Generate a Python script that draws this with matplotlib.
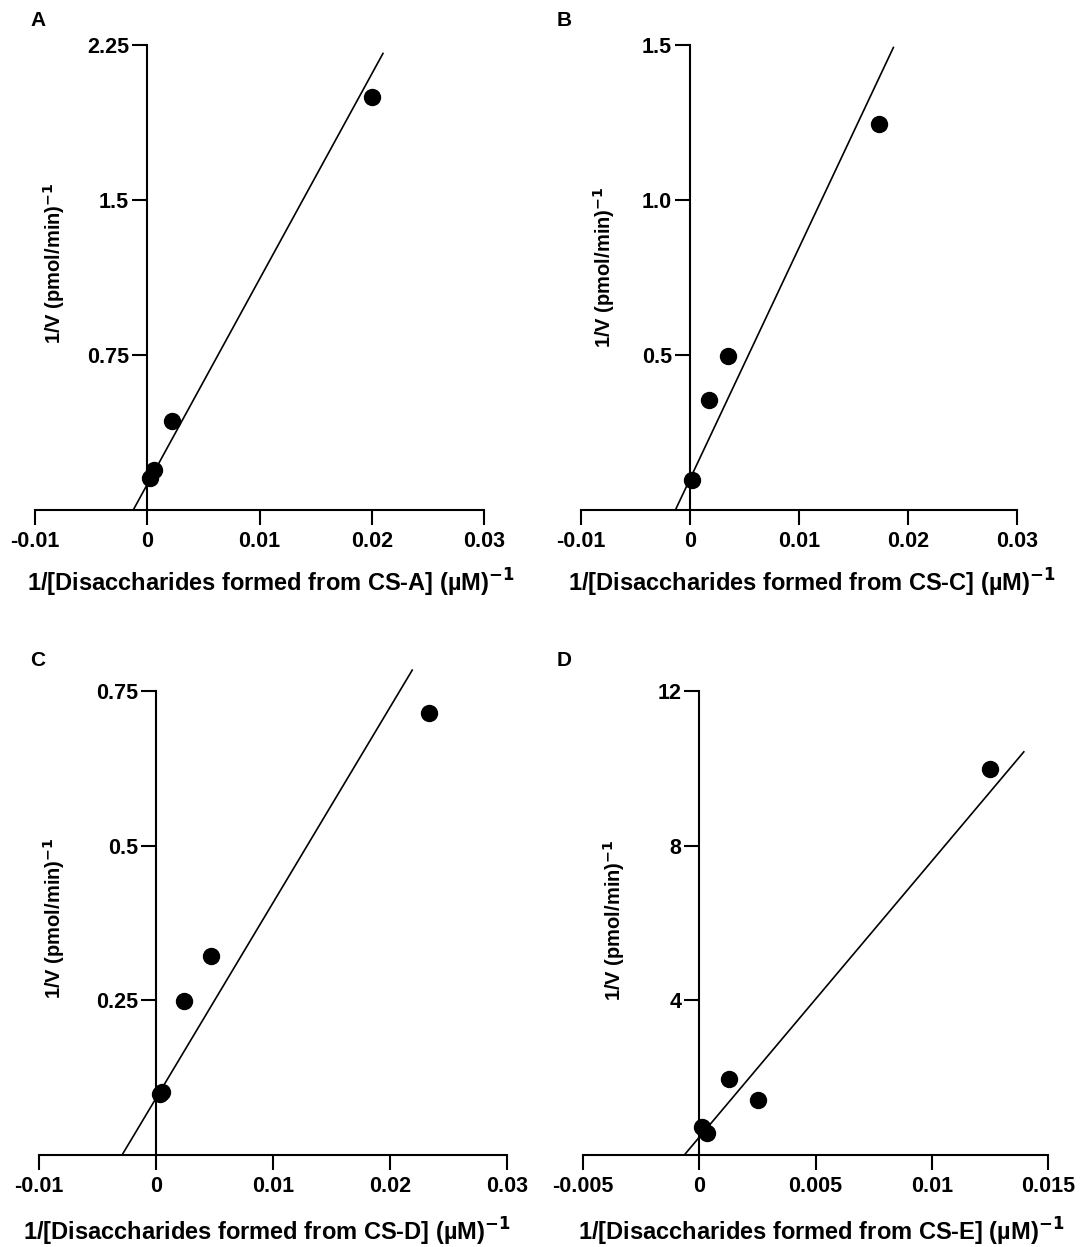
import numpy as np
import matplotlib
matplotlib.use("Agg")
import matplotlib.pyplot as plt

plt.rcParams['font.family'] = ['Liberation Sans', 'DejaVu Sans']
plt.rcParams['font.weight'] = 'bold'
plt.rcParams['mathtext.default'] = 'bf'

# data (1/[S], 1/V)
x_a = [0.0200, 0.00217, 0.00062, 0.00024]
y_a = [2.00, 0.433, 0.192, 0.154]
x_b = [0.01731, 0.00349, 0.00176, 0.0002]
y_b = [1.244, 0.497, 0.355, 0.096]
x_c = [0.02332, 0.00471, 0.00243, 0.0003, 0.0005]
y_c = [0.714, 0.322, 0.249, 0.099, 0.102]
x_d = [0.01249, 0.00127, 0.00254, 0.00013, 0.00033]
y_d = [9.99, 1.96, 1.41, 0.73, 0.58]

# fitted lines: slope, intercept, x range drawn
fit_a = (99.3, 0.124, -0.00125, 0.0210)
fit_b = (74.6, 0.100, -0.00134, 0.01866)
fit_c = (31.6, 0.0917, -0.0029, 0.0219)
fit_d = (714.0, 0.459, -0.00064, 0.01396)

xt_abc = [-0.01, 0, 0.01, 0.02, 0.03]
xtl_abc = ['-0.01', '0', '0.01', '0.02', '0.03']
xt_d = [-0.005, 0, 0.005, 0.01, 0.015]
xtl_d = ['-0.005', '0', '0.005', '0.01', '0.015']

yt_a, ytl_a = [0.75, 1.5, 2.25], ['0.75', '1.5', '2.25']
yt_b, ytl_b = [0.5, 1.0, 1.5], ['0.5', '1.0', '1.5']
yt_c, ytl_c = [0.25, 0.5, 0.75], ['0.25', '0.5', '0.75']
yt_d, ytl_d = [4, 8, 12], ['4', '8', '12']

W, H = 1084, 1247
fig = plt.figure(figsize=(W / 100, H / 100), dpi=100)

# pixel boxes: (x_left, x_right, y_zero, y_top), letter pos, ylabel coords, xlabel coords
panels = [
    ('A', 'CS-A', x_a, y_a, fit_a, xt_abc, xtl_abc, yt_a, ytl_a, (35, 484, 510, 45), (30, 20), (0.071, 0.53), (0.526, -0.122)),
    ('B', 'CS-C', x_b, y_b, fit_b, xt_abc, xtl_abc, yt_b, ytl_b, (581, 1017, 510, 45), (557, 20), (0.083, 0.523), (0.53, -0.122)),
    ('C', 'CS-D', x_c, y_c, fit_c, xt_abc, xtl_abc, yt_c, ytl_c, (39, 507, 1155, 691), (30, 660), (0.06, 0.51), (0.487, -0.132)),
    ('D', 'CS-E', x_d, y_d, fit_d, xt_d, xtl_d, yt_d, ytl_d, (583, 1048, 1155, 691), (557, 660), (0.095, 0.506), (0.512, -0.132)),
]

for letter, cs, xs, ys, fit, xt, xtl, yt, ytl, box, lpos, ylc, xlc in panels:
    x0, x1, yb, ytop = box
    ax = fig.add_axes([x0 / W, 1 - yb / H, (x1 - x0) / W, (yb - ytop) / H])
    ax.set_xlim(xt[0], xt[-1])
    ax.set_ylim(0, yt[-1])

    slope, icpt, fx0, fx1 = fit
    fx = np.array([fx0, fx1])
    ax.plot(fx, slope * fx + icpt, color='black', lw=1.2, clip_on=False)
    ax.plot(xs, ys, 'o', color='black', ms=11.5, clip_on=False)

    for s in ['top', 'right']:
        ax.spines[s].set_visible(False)
    ax.spines['left'].set_position(('data', 0))
    ax.spines['left'].set_bounds(0, yt[-1])
    ax.spines['bottom'].set_bounds(xt[0], xt[-1])
    ax.spines['left'].set_linewidth(1.5)
    ax.spines['bottom'].set_linewidth(1.5)

    ax.set_xticks(xt)
    ax.set_xticklabels(xtl)
    ax.set_yticks(yt)
    ax.set_yticklabels(ytl)
    ax.tick_params(axis='both', direction='out', length=11, width=1.5,
                   labelsize=15.5)
    ax.tick_params(axis='x', pad=4)
    ax.tick_params(axis='y', pad=2)
    for lab in ax.get_xticklabels() + ax.get_yticklabels():
        lab.set_fontweight('bold')

    ax.set_ylabel(r'1/V (pmol/min)$^{-1}$', fontsize=14.5, fontweight='bold')
    ax.yaxis.set_label_coords(*ylc)
    ax.set_xlabel('1/[Disaccharides formed from ' + cs + '] (\u00b5M)$^{-1}$',
                  fontsize=17, fontweight='bold')
    ax.xaxis.set_label_coords(*xlc)

    fig.text(lpos[0] / W, 1 - lpos[1] / H, letter, fontsize=15,
             fontweight='bold', va='center', ha='left')

fig.savefig('out.png', dpi=100)
